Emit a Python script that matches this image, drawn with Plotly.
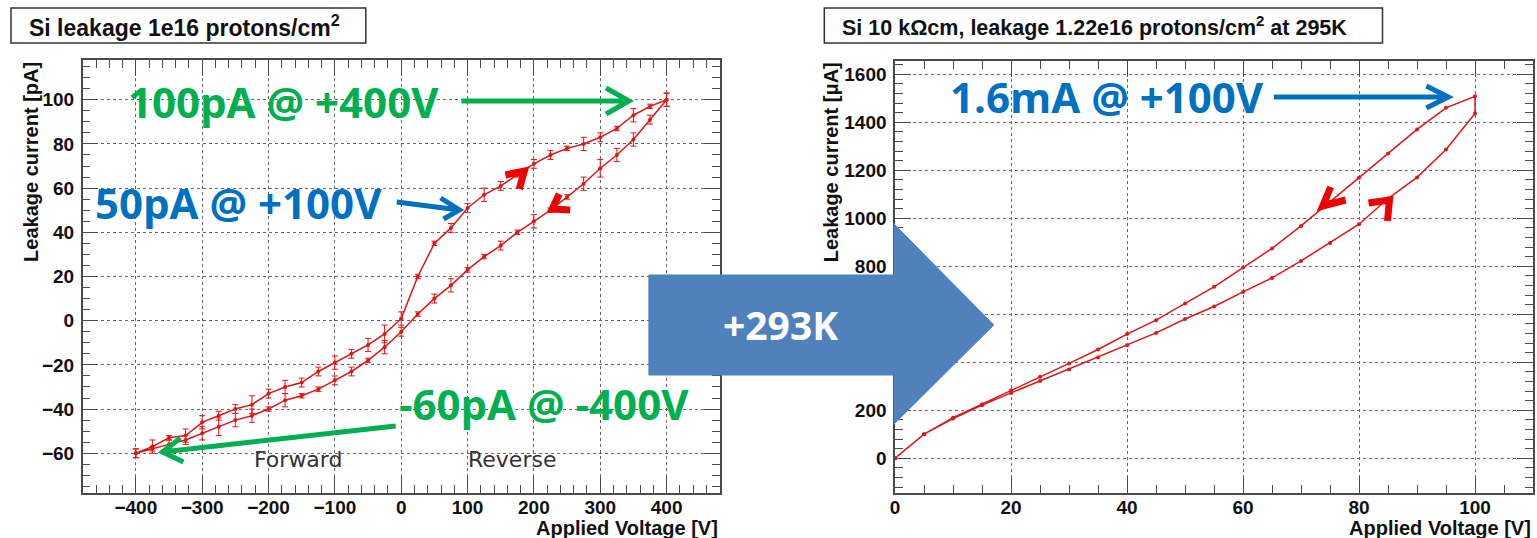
import plotly.graph_objects as go

W, H = 1537, 538

# ---------------- data ----------------
# Left panel: leakage current [pA] vs applied voltage [V], 1e16 p/cm2
left_v_upper = [-400, -375, -350, -325, -300, -275, -250, -225, -200, -175, -150, -125, -100, -75, -50, -25,
                0, 25, 50, 75, 100, 125, 150, 175, 200, 225, 250, 275, 300, 325, 350, 375, 400]
left_i_upper = [-60, -57, -53, -52, -46, -43, -40, -38, -33, -30, -28, -23, -19, -15, -11, -6,
                1, 20, 35, 42, 51, 57, 61, 66, 71, 75, 78, 80, 83, 87, 93, 97, 100]
left_e_upper = [2, 3, 1, 3, 3, 2, 2, 4, 2, 3, 2, 2, 3, 2, 3, 4,
                3, 1, 1, 2, 2, 3, 2, 1, 2, 2, 1, 3, 2, 1, 3, 1, 3]

left_v_lower = [400, 375, 350, 325, 300, 275, 250, 225, 200, 175, 150, 125, 100, 75, 50, 25,
                0, -25, -50, -75, -100, -125, -150, -175, -200, -225, -250, -275, -300, -325, -350, -375, -400]
left_i_lower = [100, 91, 82, 75, 69, 62, 56, 50, 45, 40, 34, 29, 23, 16, 10, 3,
                -5, -12, -18, -23, -27, -31, -34, -36, -40, -43, -45, -48, -51, -54, -56, -58, -60]
left_e_lower = [3, 2, 3, 3, 4, 3, 1, 1, 3, 1, 2, 1, 1, 3, 2, 1,
                2, 3, 1, 2, 2, 1, 1, 3, 1, 3, 3, 4, 3, 2, 2, 1, 2]

# Right panel: leakage current [uA] vs applied voltage [V], 1.22e16 p/cm2 at 295K
right_v_up = [0, 5, 10, 15, 20, 25, 30, 35, 40, 45, 50, 55, 60, 65, 70, 75, 80, 85, 90, 95, 100]
right_i_up = [0, 100, 165, 221, 272, 322, 370, 420, 471, 522, 580, 632, 693, 751, 822, 897, 975, 1082, 1170, 1286, 1436]
right_v_down = [100, 95, 90, 85, 80, 75, 70, 65, 60, 55, 50, 45, 40, 35, 30, 25, 20, 15, 10, 5, 0]
right_i_down = [1508, 1460, 1370, 1270, 1169, 1068, 968, 874, 795, 714, 645, 575, 517, 453, 395, 339, 283, 225, 169, 100, 0]

left_xticks = [-400, -300, -200, -100, 0, 100, 200, 300, 400]
left_yticks = [-60, -40, -20, 0, 20, 40, 60, 80, 100]
right_xticks = [0, 20, 40, 60, 80, 100]
right_yticks = [0, 200, 400, 600, 800, 1000, 1200, 1400, 1600]

# ---------------- helpers ----------------
def PX(x):
    return x / W

def PY(y):
    return 1 - y / H

RED = '#e01515'
GREEN = '#00B050'
BLUE = '#0070C0'
AXC = '#4a4a4a'
TICKFONT = dict(family='Liberation Sans, Arial', size=19, color='#111', weight='bold')

fig = go.Figure()

# left panel traces
fig.add_trace(go.Scatter(
    x=left_v_upper + left_v_lower, y=left_i_upper + left_i_lower,
    error_y=dict(type='data', array=left_e_upper + left_e_lower, color=RED, thickness=1, width=3),
    mode='lines+markers', line=dict(color=RED, width=1.5), marker=dict(color=RED, size=4),
    xaxis='x', yaxis='y', showlegend=False, hoverinfo='skip'))

# right panel trace
fig.add_trace(go.Scatter(
    x=right_v_up + right_v_down, y=right_i_up + right_i_down,
    mode='lines+markers', line=dict(color=RED, width=1.5), marker=dict(color=RED, size=4),
    xaxis='x2', yaxis='y2', showlegend=False, hoverinfo='skip'))

def axis(domain, rng, tickvals, minor_dtick, anchor, standoff):
    return dict(
        domain=domain, range=rng, tickvals=tickvals, anchor=anchor,
        showline=True, linecolor=AXC, linewidth=1.5, mirror='allticks',
        ticks='inside', ticklen=16, tickwidth=1.2, tickcolor=AXC,
        minor=dict(ticks='inside', ticklen=8, tickwidth=1.2, tickcolor=AXC, dtick=minor_dtick, showgrid=False),
        showgrid=True, gridcolor='#666', griddash='dot', gridwidth=1,
        zeroline=False, tickfont=TICKFONT, fixedrange=True, ticklabelstandoff=standoff)

fig.update_layout(
    width=W, height=H, margin=dict(l=0, r=0, t=0, b=0),
    paper_bgcolor='white', plot_bgcolor='white',
    xaxis=axis([PX(78), PX(717)], [-480, 480], left_xticks, 20, 'y', -4),
    yaxis=axis([PY(493), PY(60)], [-78, 118], left_yticks, 5, 'x', 3),
    xaxis2=axis([PX(893), PX(1533)], [0, 110], right_xticks, 5, 'y2', -4),
    yaxis2=axis([PY(493), PY(61)], [-145, 1655], right_yticks, 40, 'x2', 3),
)

shapes = []
annotations = []

# title boxes
for (x0, x1, txt, size) in [
    (6, 362, 'Si leakage 1e16 protons/cm<sup>2</sup>', 23),
    (822, 1382, 'Si 10 k\u03a9cm, leakage 1.22e16 protons/cm<sup>2</sup> at 295K', 21.5),
]:
    shapes.append(dict(type='rect', xref='paper', yref='paper', x0=PX(x0), x1=PX(x1), y0=PY(43), y1=PY(8),
                       line=dict(color='#333', width=1.5), fillcolor='white'))
    annotations.append(dict(xref='paper', yref='paper', x=PX(x0 + 16), y=PY(26), text=txt, showarrow=False,
                            xanchor='left', yanchor='middle',
                            font=dict(family='Liberation Sans, Arial', size=size, color='#111', weight='bold')))

# axis titles
AXTF = dict(family='Liberation Sans, Arial', size=20, color='#111', weight='bold')
annotations += [
    dict(xref='paper', yref='paper', x=PX(717), y=PY(528), text='Applied Voltage [V]', showarrow=False,
         xanchor='right', yanchor='middle', font=AXTF),
    dict(xref='paper', yref='paper', x=PX(1533), y=PY(528), text='Applied Voltage [V]', showarrow=False,
         xanchor='right', yanchor='middle', font=AXTF),
    dict(xref='paper', yref='paper', x=PX(26), y=PY(60), text='Leakage current [pA]', showarrow=False,
         textangle=-90, xanchor='center', yanchor='top', font=AXTF),
    dict(xref='paper', yref='paper', x=PX(829), y=PY(60), text='Leakage current [\u03bcA]', showarrow=False,
         textangle=-90, xanchor='center', yanchor='top', font=AXTF),
]

# Forward / Reverse labels
for (xc, txt) in [(294, 'Forward'), (509, 'Reverse')]:
    annotations.append(dict(xref='paper', yref='paper', x=PX(xc), y=PY(459), text=txt, showarrow=False,
                            xanchor='center', yanchor='middle',
                            font=dict(family='DejaVu Sans', size=22, color='#333')))

# callout texts
CALL = dict(family='Open Sans', size=42, weight='bold')
for (x, y, txt, col) in [
    (121, 101, '100pA @ +400V', GREEN),
    (88, 202, '50pA @ +100V', BLUE),
    (393, 403, '-60pA @ -400V', GREEN),
    (946, 97, '1.6mA @ +100V', BLUE),
]:
    annotations.append(dict(xref='paper', yref='paper', x=PX(x), y=PY(y), text=txt, showarrow=False,
                            xanchor='left', yanchor='middle', font=dict(CALL, color=col)))

def path(points_list):
    s = ''
    for pts in points_list:
        s += 'M %.5f %.5f ' % (PX(pts[0][0]), PY(pts[0][1]))
        for (x, y) in pts[1:]:
            s += 'L %.5f %.5f ' % (PX(x), PY(y))
    return s

def arrow(x0, y0, tip, a1, a2, col, w):
    shapes.append(dict(type='path', xref='paper', yref='paper', layer='above',
                       path=path([[(x0, y0), tip], [a1, tip, a2]]),
                       line=dict(color=col, width=w)))

arrow(458, 101, (626, 101), (603, 88), (603, 114), GREEN, 5)
arrow(393, 202, (456, 210), (437, 198), (440, 219), BLUE, 5)
arrow(392, 426, (158, 452), (176, 438), (179, 462), GREEN, 5)
arrow(1273, 97, (1448, 97), (1426, 86), (1426, 108), BLUE, 5)

# hand drawn red chevrons
for (a1, v, a2) in [
    ((502, 175), (521, 171), (516, 189)),
    ((567, 210), (549, 209), (556, 194)),
    ((1330, 187), (1322, 206), (1345, 200)),
    ((1368, 203), (1389, 200), (1387, 221)),
]:
    shapes.append(dict(type='path', xref='paper', yref='paper', layer='above',
                       path=path([[a1, v, a2]]), line=dict(color='#ee0000', width=7)))

# big blue arrow
big = [(646, 275), (892, 275), (892, 224), (992, 325), (892, 424), (892, 375), (646, 375)]
shapes.append(dict(type='path', xref='paper', yref='paper', layer='above',
                   path=path([big]) + 'Z', fillcolor='#4F81BD', line=dict(color='#4F81BD', width=1)))
annotations.append(dict(xref='paper', yref='paper', x=PX(778), y=PY(324), text='+293K', showarrow=False,
                        xanchor='center', yanchor='middle',
                        font=dict(family='Open Sans', size=39, color='white', weight='bold')))

fig.update_layout(shapes=shapes, annotations=annotations)
fig.write_html('out.html')
